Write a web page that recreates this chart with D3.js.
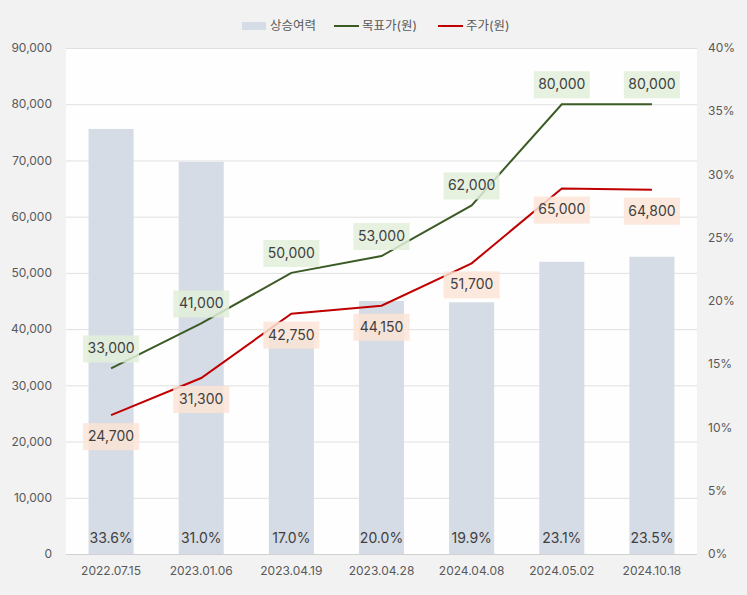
<!DOCTYPE html>
<html>
<head>
<meta charset="utf-8">
<script src="https://cdnjs.cloudflare.com/ajax/libs/d3/7.8.5/d3.min.js"></script>
<style>
  body { margin: 0; background: #f2f2f2; }
  text { font-family: "Inter", "Noto Sans CJK KR", "Noto Sans", sans-serif; }
</style>
</head>
<body>
<div id="chart"></div>
<script>
// chart data
const dates = ["2022.07.15", "2023.01.06", "2023.04.19", "2023.04.28", "2024.04.08", "2024.05.02", "2024.10.18"];
const upside = [33.6, 31.0, 17.0, 20.0, 19.9, 23.1, 23.5];
const target = [33000, 41000, 50000, 53000, 62000, 80000, 80000];
const price = [24700, 31300, 42750, 44150, 51700, 65000, 64800];
const leftTicks = [0, 10000, 20000, 30000, 40000, 50000, 60000, 70000, 80000, 90000];
const rightTicks = [0, 5, 10, 15, 20, 25, 30, 35, 40];

let total_width = 747, total_height = 595;
let plot = {left: 66, right: 697, top: 48, bottom: 554};

var svg = d3.select("#chart").append("svg")
    .attr("width", total_width)
    .attr("height", total_height);

svg.append("rect").attr("width", total_width).attr("height", total_height).attr("fill", "#f2f2f2");
svg.append("rect")
    .attr("x", plot.left).attr("y", plot.top)
    .attr("width", plot.right - plot.left).attr("height", plot.bottom - plot.top)
    .attr("fill", "#fefefe");

var x = d3.scaleBand().domain(dates).range([plot.left, plot.right])
    .paddingInner(0.5).paddingOuter(0.25);
var xc = d => x(d) + x.bandwidth() / 2;
var y = d3.scaleLinear().domain([0, 90000]).range([plot.bottom, plot.top]);
var y2 = d3.scaleLinear().domain([0, 40]).range([plot.bottom, plot.top]);

// gridlines
svg.append("g").selectAll("line").data(leftTicks).enter().append("line")
    .attr("x1", plot.left).attr("x2", plot.right)
    .attr("y1", d => y(d) + 0.5).attr("y2", d => y(d) + 0.5)
    .attr("stroke", d => d == 0 ? "#d0d0d0" : "#e0e0e0").attr("stroke-width", 1);

// left axis
svg.append("g").selectAll("text").data(leftTicks).enter().append("text")
    .attr("x", 52).attr("y", d => y(d)).attr("dy", "0.35em")
    .attr("text-anchor", "end").attr("font-size", 12).attr("fill", "#595959")
    .text(d => d3.format(",")(d));

// right axis
svg.append("g").selectAll("text").data(rightTicks).enter().append("text")
    .attr("x", 708).attr("y", d => y2(d)).attr("dy", "0.35em")
    .attr("text-anchor", "start").attr("font-size", 12).attr("fill", "#595959")
    .text(d => d + "%");

// x labels
svg.append("g").selectAll("text").data(dates).enter().append("text")
    .attr("x", d => xc(d)).attr("y", 571).attr("dy", "0.35em")
    .attr("text-anchor", "middle").attr("font-size", 12).attr("fill", "#595959")
    .text(d => d);

// bars
svg.append("g").selectAll("rect").data(upside).enter().append("rect")
    .attr("x", (d, i) => x(dates[i]))
    .attr("width", x.bandwidth())
    .attr("y", d => y2(d))
    .attr("height", d => plot.bottom - y2(d))
    .attr("fill", "#d6dce5");

svg.append("g").selectAll("text").data(upside).enter().append("text")
    .attr("x", (d, i) => xc(dates[i])).attr("y", 538).attr("dy", "0.35em")
    .attr("text-anchor", "middle").attr("font-size", 14).attr("fill", "#404040")
    .text(d => d.toFixed(1) + "%");

// lines
var line = d3.line().x((d, i) => xc(dates[i])).y(d => y(d));
svg.append("path").datum(target).attr("d", line)
    .attr("fill", "none").attr("stroke", "#3b5b25").attr("stroke-width", 2);
svg.append("path").datum(price).attr("d", line)
    .attr("fill", "none").attr("stroke", "#c00000").attr("stroke-width", 2);

// data labels
function labels(data, dy, fill) {
  let g = svg.append("g").selectAll("g").data(data).enter().append("g")
      .attr("transform", (d, i) => "translate(" + xc(dates[i]) + "," + (y(d) + dy) + ")");
  g.append("rect").attr("x", -28).attr("y", -13).attr("width", 56).attr("height", 27)
      .attr("fill", fill).attr("fill-opacity", 0.85);
  g.append("text").attr("dy", "0.35em").attr("text-anchor", "middle")
      .attr("font-size", 14).attr("fill", "#404040")
      .text(d => d3.format(",")(d));
}
labels(target, -20, "#e2efda");
labels(price, 21, "#fce4d6");

// legend
let lg = svg.append("g").attr("font-size", 12.5).attr("fill", "#595959");
lg.append("rect").attr("x", 242).attr("y", 22).attr("width", 24).attr("height", 8).attr("fill", "#d6dce5");
lg.append("text").attr("x", 270).attr("y", 26).attr("dy", "0.35em").attr("fill", "#595959").text("상승여력");
lg.append("line").attr("x1", 334).attr("x2", 359).attr("y1", 26).attr("y2", 26).attr("stroke", "#3b5b25").attr("stroke-width", 2);
lg.append("text").attr("x", 362).attr("y", 26).attr("dy", "0.35em").attr("fill", "#595959").text("목표가(원)");
lg.append("line").attr("x1", 438).attr("x2", 463).attr("y1", 26).attr("y2", 26).attr("stroke", "#c00000").attr("stroke-width", 2);
lg.append("text").attr("x", 466).attr("y", 26).attr("dy", "0.35em").attr("fill", "#595959").text("주가(원)");
</script>
</body>
</html>
